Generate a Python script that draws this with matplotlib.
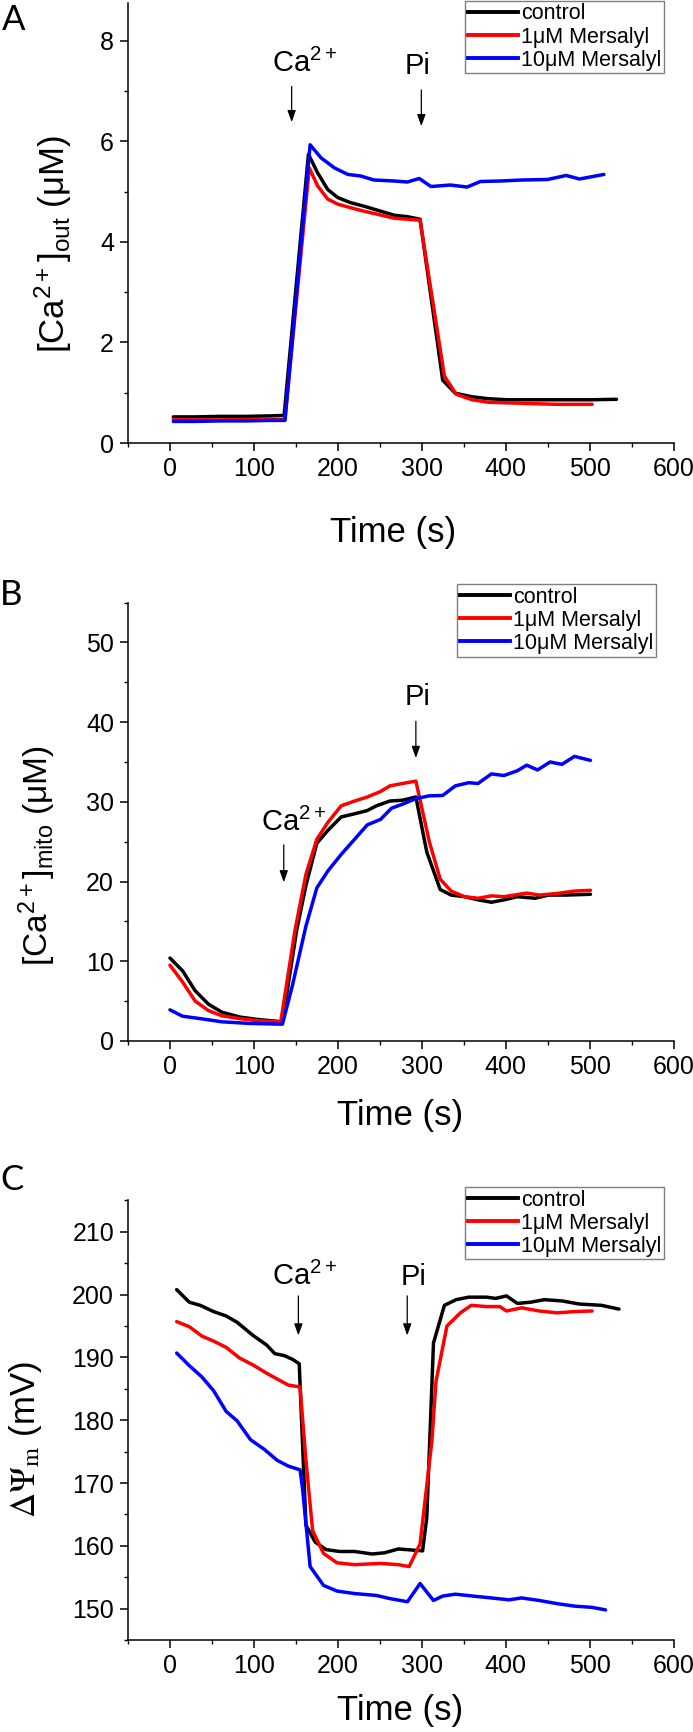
import matplotlib
matplotlib.use("Agg")
import matplotlib.pyplot as plt
from matplotlib.ticker import MultipleLocator
from matplotlib.lines import Line2D

plt.rcParams['font.family'] = ['Liberation Sans', 'DejaVu Sans']
plt.rcParams['mathtext.fontset'] = 'custom'
plt.rcParams['mathtext.rm'] = 'Liberation Sans'
plt.rcParams['mathtext.it'] = 'Liberation Sans:italic'
plt.rcParams['mathtext.bf'] = 'Liberation Sans:bold'

# ---------------- data ----------------
series_labels = ["control", "1\u03bcM Mersalyl", "10\u03bcM Mersalyl"]
series_colors = ["#000000", "#ff0000", "#0000ff"]

# Panel A : [Ca2+]out (uM)
A_ctrl_t = [4, 30, 60, 90, 120, 136, 165, 176, 188, 200, 215, 231, 247, 267, 283, 298, 325, 340, 360, 380, 403, 450, 500, 532]
A_ctrl_y = [0.52, 0.52, 0.53, 0.53, 0.54, 0.55, 5.74, 5.37, 5.04, 4.88, 4.78, 4.71, 4.63, 4.53, 4.50, 4.45, 1.25, 0.99, 0.92, 0.88, 0.86, 0.86, 0.86, 0.87]
A_1uM_t = [4, 30, 60, 90, 120, 137, 166, 176, 188, 200, 215, 231, 247, 267, 283, 298, 327, 341, 360, 380, 420, 460, 503]
A_1uM_y = [0.47, 0.46, 0.46, 0.47, 0.47, 0.47, 5.47, 5.11, 4.85, 4.75, 4.68, 4.61, 4.55, 4.47, 4.45, 4.43, 1.33, 0.97, 0.86, 0.81, 0.79, 0.77, 0.77]
A_10uM_t = [4, 30, 60, 90, 120, 137, 167, 180, 196, 212, 227, 243, 267, 283, 297, 311, 334, 354, 370, 394, 420, 450, 472, 488, 517]
A_10uM_y = [0.43, 0.43, 0.44, 0.44, 0.45, 0.45, 5.93, 5.67, 5.47, 5.34, 5.31, 5.23, 5.21, 5.19, 5.26, 5.10, 5.13, 5.09, 5.20, 5.21, 5.23, 5.24, 5.32, 5.25, 5.34]

# Panel B : [Ca2+]mito (uM)
B_ctrl_t = [0, 15, 30, 46, 62, 83, 104, 134, 151, 162, 175, 188, 204, 220, 235, 246, 262, 277, 293, 306, 322, 335, 351, 367, 383, 398, 414, 435, 451, 472, 501]
B_ctrl_y = [10.4, 8.8, 6.3, 4.6, 3.6, 3.0, 2.7, 2.4, 13.9, 19.5, 24.8, 26.4, 28.1, 28.5, 28.9, 29.5, 30.1, 30.2, 30.6, 23.7, 19.0, 18.3, 18.1, 17.7, 17.4, 17.7, 18.1, 17.9, 18.3, 18.3, 18.4]
B_1uM_t = [0, 15, 30, 46, 62, 83, 104, 132, 149, 162, 175, 188, 204, 220, 235, 251, 262, 277, 293, 309, 322, 335, 351, 367, 383, 398, 425, 440, 461, 482, 501]
B_1uM_y = [9.5, 7.4, 5.0, 3.8, 3.15, 2.8, 2.55, 2.4, 13.9, 20.9, 25.3, 27.4, 29.5, 30.1, 30.6, 31.3, 32.0, 32.3, 32.6, 25.0, 20.3, 18.8, 18.1, 17.9, 18.2, 18.1, 18.55, 18.3, 18.5, 18.8, 18.9]
B_10uM_t = [0, 15, 36, 62, 94, 134, 146, 162, 175, 188, 204, 220, 235, 251, 264, 277, 293, 309, 325, 340, 356, 367, 383, 398, 414, 425, 438, 453, 467, 482, 501]
B_10uM_y = [3.9, 3.1, 2.8, 2.4, 2.2, 2.1, 7.0, 14.4, 19.2, 21.3, 23.4, 25.3, 27.1, 27.8, 29.2, 29.7, 30.4, 30.75, 30.8, 32.0, 32.4, 32.3, 33.5, 33.3, 33.9, 34.6, 34.0, 35.0, 34.7, 35.7, 35.2]

# Panel C : delta Psi m (mV)
C_ctrl_t = [8, 23, 36, 52, 67, 80, 99, 115, 125, 136, 146, 154, 162, 173, 186, 202, 220, 241, 256, 272, 301, 306, 314, 327, 341, 356, 377, 388, 401, 414, 430, 446, 467, 488, 514, 535]
C_ctrl_y = [200.8, 198.8, 198.3, 197.3, 196.6, 195.6, 193.5, 192.0, 190.6, 190.3, 189.7, 189.0, 163.3, 160.6, 159.4, 159.1, 159.1, 158.7, 158.9, 159.5, 159.2, 164.5, 192.3, 198.3, 199.2, 199.6, 199.6, 199.4, 199.8, 198.6, 198.8, 199.2, 199.0, 198.5, 198.3, 197.7]
C_1uM_t = [8, 23, 38, 52, 67, 83, 99, 115, 130, 141, 155, 162, 170, 183, 199, 220, 251, 272, 285, 298, 312, 317, 330, 346, 359, 377, 393, 401, 419, 440, 461, 482, 503]
C_1uM_y = [195.7, 194.9, 193.4, 192.6, 191.6, 189.9, 188.8, 187.5, 186.4, 185.6, 185.3, 173.6, 162.4, 158.8, 157.3, 157.0, 157.2, 157.0, 156.7, 160.3, 176.6, 186.2, 195.0, 197.1, 198.3, 198.1, 198.1, 197.4, 197.9, 197.4, 197.1, 197.3, 197.4]
C_10uM_t = [8, 23, 38, 52, 67, 80, 96, 112, 128, 141, 155, 158, 167, 183, 199, 220, 246, 262, 283, 298, 314, 325, 340, 361, 383, 404, 419, 440, 461, 482, 503, 519]
C_10uM_y = [190.7, 188.7, 186.9, 184.7, 181.4, 179.9, 176.9, 175.4, 173.6, 172.7, 172.1, 169.1, 156.7, 153.7, 152.8, 152.4, 152.1, 151.6, 151.1, 154.0, 151.3, 152.0, 152.3, 152.0, 151.7, 151.4, 151.7, 151.3, 150.8, 150.4, 150.2, 149.8]

x_ticks = [0, 100, 200, 300, 400, 500, 600]

# ---------------- figure ----------------
fig = plt.figure(figsize=(6.93, 17.32), dpi=100)

panels = [
    dict(rect=[0.1847, 0.7442, 0.7872, 0.2541], ylim=(0, 8.75), major=2, minor=1,
         series=[(A_ctrl_t, A_ctrl_y), (A_1uM_t, A_1uM_y), (A_10uM_t, A_10uM_y)],
         letter="A", letter_xy=(0.019, 0.9885),
         ylabel=r"[Ca$^{2+}$]$_{\mathrm{out}}$ (μM)", ylabel_xy=(0.077, 0.859), ymath=None, ylsize=25,
         xlabel_xy=(0.567, 0.6928),
         legend_xy=(0.671, 0.9995),
         ca=dict(text=(121, 7.38), arrow=(145, 7.09, 6.38)),
         pi=dict(text=(280, 7.33), arrow=(299.5, 7.02, 6.30))),
    dict(rect=[0.1847, 0.3990, 0.7872, 0.2531], ylim=(0, 55), major=10, minor=5,
         series=[(B_ctrl_t, B_ctrl_y), (B_1uM_t, B_1uM_y), (B_10uM_t, B_10uM_y)],
         letter="B", letter_xy=(0.016, 0.6565),
         ylabel=r"[Ca$^{2+}$]$_{\mathrm{mito}}$ (μM)", ylabel_xy=(0.054, 0.5058), ymath=None, ylsize=24,
         xlabel_xy=(0.577, 0.3562),
         legend_xy=(0.6595, 0.6628),
         ca=dict(text=(109, 26.4), arrow=(135.6, 24.6, 19.9)),
         pi=dict(text=(280, 42.1), arrow=(293, 40.1, 35.5))),
    dict(rect=[0.1847, 0.0531, 0.7872, 0.2538], ylim=(145, 215), major=10, minor=5,
         series=[(C_ctrl_t, C_ctrl_y), (C_1uM_t, C_1uM_y), (C_10uM_t, C_10uM_y)],
         letter="C", letter_xy=(0.017, 0.3187),
         ylabel=r"$\Delta\Psi_{\mathrm{m}}$ (mV)", ylabel_xy=(0.037, 0.1686), ymath="stix", ylsize=25,
         xlabel_xy=(0.577, 0.0127),
         legend_xy=(0.671, 0.3147),
         ca=dict(text=(121, 201.6), arrow=(153, 199.8, 193.5)),
         pi=dict(text=(275, 201.6), arrow=(282.7, 199.8, 193.5))),
]

for p in panels:
    ax = fig.add_axes(p["rect"])
    for (t, y), c in zip(p["series"], series_colors):
        ax.plot(t, y, color=c, lw=2.5, solid_joinstyle='round', solid_capstyle='round')
    ax.set_xlim(-50, 600)
    ax.set_ylim(*p["ylim"])
    ax.set_xticks(x_ticks)
    ax.xaxis.set_minor_locator(MultipleLocator(50))
    ax.yaxis.set_major_locator(MultipleLocator(p["major"]))
    ax.yaxis.set_minor_locator(MultipleLocator(p["minor"]))
    for s in ["top", "right"]:
        ax.spines[s].set_visible(False)
    for s in ["left", "bottom"]:
        ax.spines[s].set_linewidth(1.1)
    ax.tick_params(which='major', direction='out', length=6, width=1.1, labelsize=18, pad=4)
    ax.tick_params(which='minor', direction='out', length=3, width=1.0)

    # annotations
    ca = p["ca"]
    ax.text(ca["text"][0], ca["text"][1], r"Ca$^{2+}$", fontsize=21, ha='left', va='baseline')
    ax.annotate('', xy=(ca["arrow"][0], ca["arrow"][2]), xytext=(ca["arrow"][0], ca["arrow"][1]),
                arrowprops=dict(arrowstyle='-|>,head_length=0.5,head_width=0.18', color='k', lw=0.9,
                                shrinkA=0, shrinkB=0, mutation_scale=14))
    pi = p["pi"]
    ax.text(pi["text"][0], pi["text"][1], "Pi", fontsize=21, ha='left', va='baseline')
    ax.annotate('', xy=(pi["arrow"][0], pi["arrow"][2]), xytext=(pi["arrow"][0], pi["arrow"][1]),
                arrowprops=dict(arrowstyle='-|>,head_length=0.5,head_width=0.18', color='k', lw=0.9,
                                shrinkA=0, shrinkB=0, mutation_scale=14))

    # legend
    handles = [Line2D([], [], color=c, lw=2.8) for c in series_colors]
    leg = ax.legend(handles, series_labels, loc='upper left', bbox_to_anchor=p["legend_xy"],
                    bbox_transform=fig.transFigure, borderaxespad=0, fontsize=15.5,
                    handlelength=2.35, handletextpad=0.15, labelspacing=0.1, borderpad=0.12,
                    fancybox=False, framealpha=1, edgecolor='#7f7f7f')
    leg.get_frame().set_linewidth(1.0)

    # labels
    fig.text(p["letter_xy"][0], p["letter_xy"][1], p["letter"], fontsize=25, family='Lato',
             ha='center', va='center')
    kw = {}
    if p["ymath"]:
        kw["math_fontfamily"] = p["ymath"]
    fig.text(p["ylabel_xy"][0], p["ylabel_xy"][1], p["ylabel"], fontsize=p["ylsize"], rotation=90,
             ha='center', va='center', **kw)
    fig.text(p["xlabel_xy"][0], p["xlabel_xy"][1], "Time (s)", fontsize=25, ha='center', va='center')

fig.savefig("out.png", dpi=100)
